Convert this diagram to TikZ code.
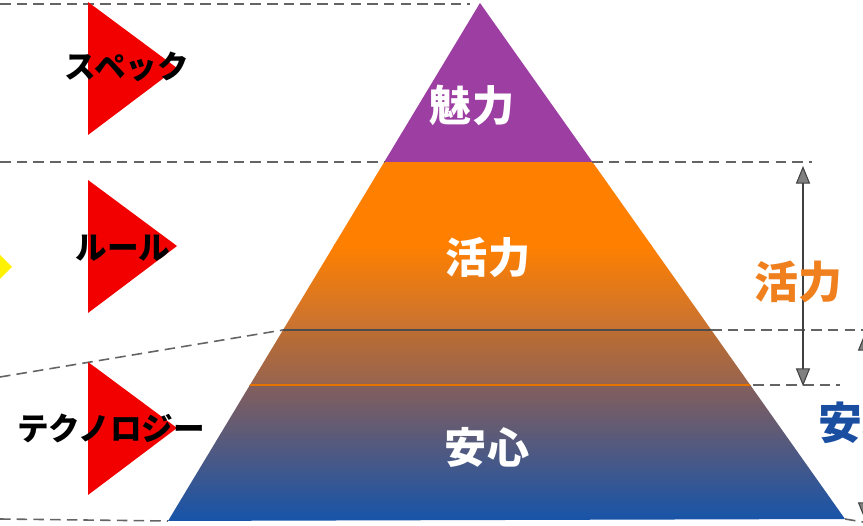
\documentclass[tikz,border=0pt]{standalone}
\usepackage{fontspec}
\newfontfamily\jpfont{Noto Sans CJK JP Black}
\usetikzlibrary{arrows.meta}
\definecolor{charm}{RGB}{156,62,162}
\definecolor{vigour}{RGB}{255,128,0}
\definecolor{rust}{RGB}{198,114,52}
\definecolor{dusk}{RGB}{150,100,80}
\definecolor{dusk2}{RGB}{132,94,92}
\definecolor{haze}{RGB}{88,80,118}
\definecolor{calm}{RGB}{22,84,170}
\definecolor{calmtext}{RGB}{26,78,160}
\definecolor{vigourtext}{RGB}{240,128,30}
\definecolor{guidegray}{RGB}{100,100,100}
\tikzstyle{guide} = [dash pattern=on 6pt off 3.5pt, guidegray, line width=0.9pt]
\tikzstyle{span} = [{Triangle[width=8pt,length=10pt,fill=gray]}-{Triangle[width=8pt,length=10pt,fill=gray]}, draw=black!75, line width=0.6pt]
\tikzstyle{tag} = [font=\jpfont\fontsize{18}{18}\selectfont, text=black, inner sep=0pt]
\tikzstyle{inside} = [font=\jpfont\fontsize{24}{24}\selectfont, text=white, inner sep=0pt]
\tikzstyle{side} = [font=\jpfont\fontsize{25}{25}\selectfont, inner sep=0pt]
\begin{document}
\begin{tikzpicture}[x=0.02cm,y=-0.02cm]
\clip (0,0) rectangle (863,526);
\fill[white] (0,0) rectangle (863,526);
\coordinate (apex) at (480,3);
\coordinate (bl) at (168,521);
\coordinate (br) at (845,519);
\coordinate (l1) at (384,162);
\coordinate (l2) at (283,330);
\coordinate (r1) at (592,162);
\coordinate (r2) at (711,330);
% pyramid bands
\begin{scope}
\clip (apex) -- (bl) -- (br) -- cycle;
\fill[charm] (150,0) rectangle (860,162);
\fill[vigour] (150,162) rectangle (860,246);
\shade[top color=vigour,bottom color=rust] (150,245) rectangle (860,331);
\shade[top color=rust!95!black,bottom color=dusk] (150,330) rectangle (860,386);
\shade[top color=dusk2,middle color=haze,bottom color=calm] (150,385) rectangle (860,522);
\draw[black!70, line width=0.8pt] (l2) -- (r2);
\draw[vigour!90!black, line width=1.2pt] (150,385) -- (860,385);
\end{scope}
% guide lines
\draw[guide] (0,4) -- (470,4);
\draw[guide] (0,162) -- (l1);
\draw[guide] (r1) -- (812,162);
\draw[guide] (0,377) -- (l2);
\draw[guide] (r2) -- (863,330);
\draw[guide] (753,385) -- (840,385);
\draw[guide] (0,519) -- (bl);
\draw[guide] (br) -- (863,522);
% pointers
\fill[yellow] (-30,225) -- (12,267) -- (-30,309) -- cycle;
\foreach \y in {2,180,362}
  \fill[red!95!black] (88,\y) -- (177,\y+66) -- (88,\y+133) -- cycle;
% spans
\coordinate (s1) at (803,166);
\coordinate (s2) at (803,386);
\coordinate (s3) at (865,333);
\coordinate (s4) at (865,520);
\draw[span] (s1) -- (s2);
\draw[span] (s3) -- (s4);
% labels
\node[tag] (spec) at (127,67) {スペック};
\node[tag] (rule) at (123,248) {ルール};
\node[tag] (tech) at (111,428) {テクノロジー};
\node[inside] (charmlabel) at (472,105) {魅力};
\node[inside] (vigourlabel) at (488,258) {活力};
\node[inside] (calmlabel) at (487,447) {安心};
\node[side, text=vigourtext] (vigourside) at (798,282) {活力};
\node[side, text=calmtext] (calmside) at (862,423) {安心};
\end{tikzpicture}
\end{document}
